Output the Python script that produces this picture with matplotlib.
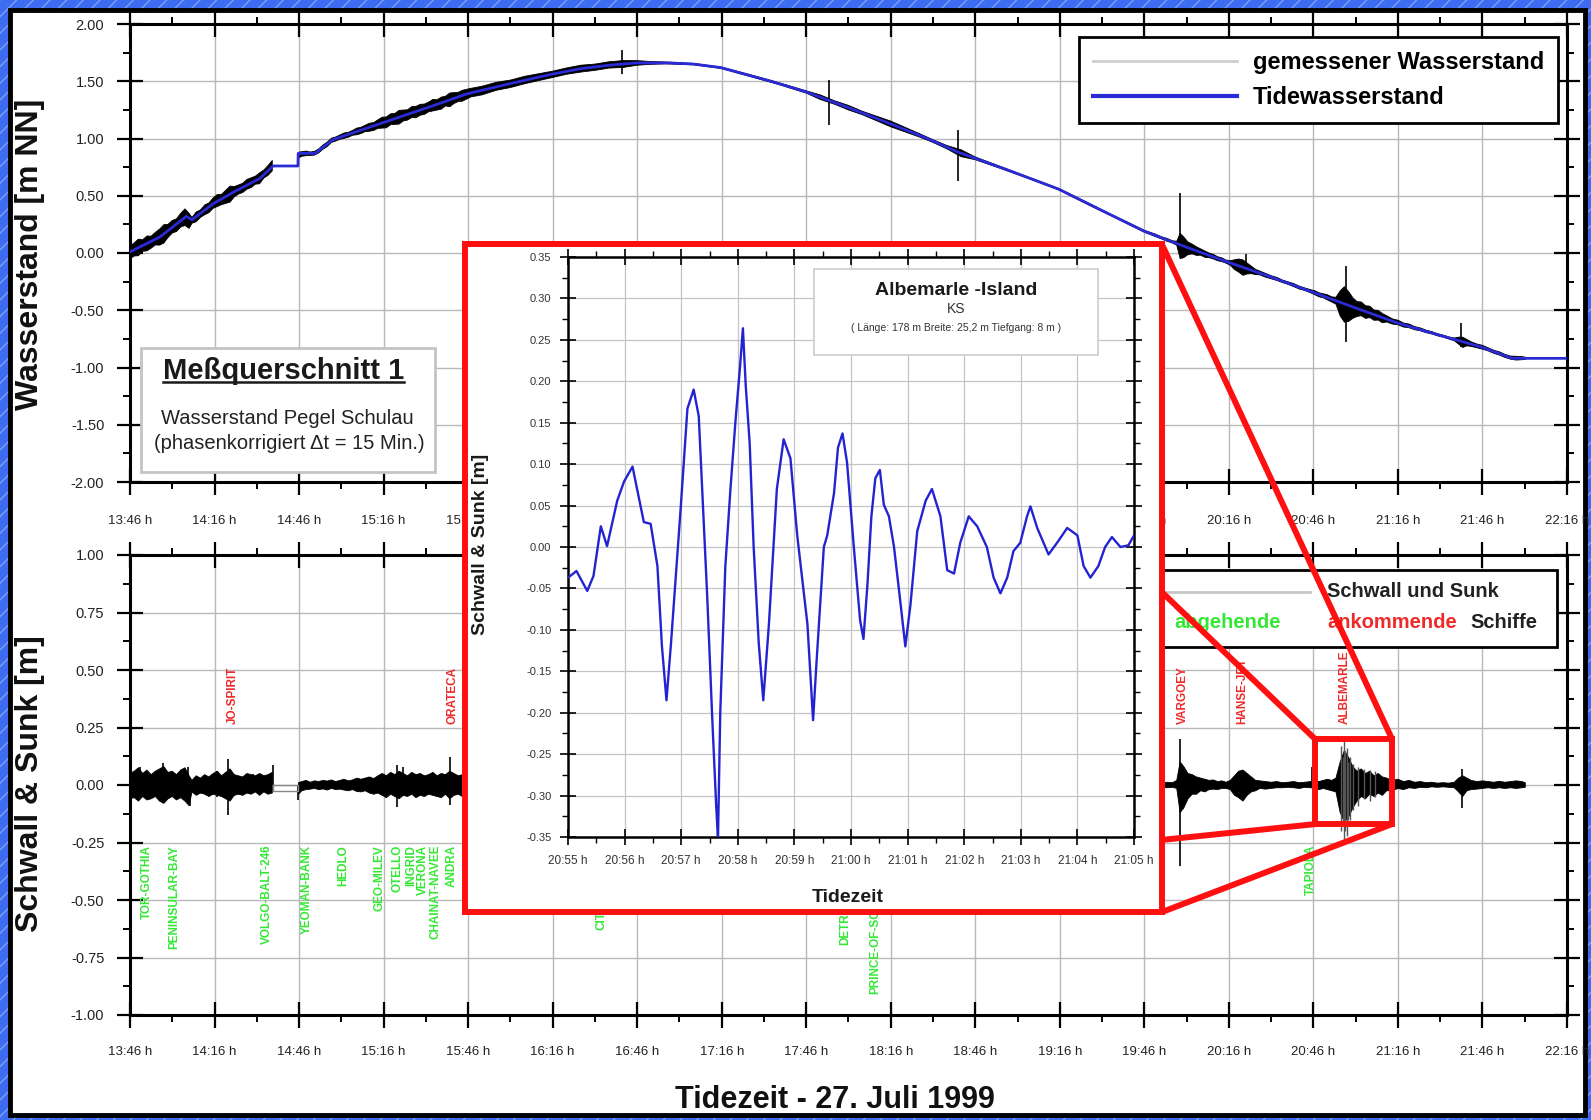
import numpy as np
import matplotlib
matplotlib.use("Agg")
import matplotlib.pyplot as plt
from matplotlib.patches import Rectangle, ConnectionPatch
from matplotlib.lines import Line2D
from matplotlib.ticker import MultipleLocator, FuncFormatter

plt.rcParams['font.family'] = ['Liberation Sans', 'DejaVu Sans']
plt.rcParams['hatch.linewidth'] = 1.0

nan = np.nan

# ---------------- data (time = minutes after 13:46 h) ----------------
time_tick_labels = ["13:46 h", "14:16 h", "14:46 h", "15:16 h", "15:46 h", "16:16 h",
                    "16:46 h", "17:16 h", "17:46 h", "18:16 h", "18:46 h", "19:16 h",
                    "19:46 h", "20:16 h", "20:46 h", "21:16 h", "21:46 h", "22:16 h"]

# Tidewasserstand [m NN]
tide_t = [0, 10.6, 20, 22, 29.5, 36.6, 46, 50.8, 59.6, 59.7, 65.7, 72, 84, 96, 108, 119.6,
          135, 149.4, 160, 170, 179.6, 191.6, 200, 209.5, 227.5, 239.6, 256, 269.7, 282,
          294, 312, 329.4, 345, 360, 375, 389.7, 405, 419.5, 435, 449.7, 465, 479.5, 490.5, 509.6]
tide_v = [0.01, 0.14, 0.32, 0.29, 0.43, 0.53, 0.65, 0.76, 0.76, 0.87, 0.87, 0.99, 1.09, 1.19,
          1.29, 1.39, 1.48, 1.56, 1.61, 1.64, 1.66, 1.66, 1.65, 1.62, 1.50, 1.41, 1.26, 1.13,
          1.01, 0.88, 0.72, 0.56, 0.37, 0.19, 0.05, -0.08, -0.21, -0.34, -0.48, -0.61, -0.72,
          -0.82, -0.92, -0.92]

# Schwall & Sunk envelope [m], four stretches (a gap in the record lies between 1 and 2)
env1_t = [0, 1.5, 3, 4.5, 6, 7.5, 9, 10.5, 12, 13.5, 15, 16.5, 18, 19.5, 21, 22, 23.5, 25,
          26.5, 28, 29.5, 31, 32.5, 34, 35.5, 37, 38.5, 40, 41.5, 43, 44.5, 46, 47.5, 49, 50.5]
env1_hi = [0.05, 0.06, 0.075, 0.05, 0.065, 0.045, 0.06, 0.07, 0.08, 0.055, 0.06, 0.045, 0.065,
           0.075, 0.04, 0.02, 0.04, 0.03, 0.045, 0.035, 0.05, 0.06, 0.04, 0.055, 0.07, 0.045,
           0.04, 0.035, 0.05, 0.045, 0.04, 0.05, 0.04, 0.045, 0.055]
env1_lo = [-0.06, -0.055, -0.07, -0.05, -0.065, -0.06, -0.05, -0.07, -0.08, -0.06, -0.05,
           -0.065, -0.055, -0.07, -0.09, -0.03, -0.045, -0.035, -0.04, -0.05, -0.04, -0.045,
           -0.05, -0.06, -0.07, -0.045, -0.04, -0.045, -0.035, -0.04, -0.03, -0.045, -0.03,
           -0.04, -0.035]

env2_t = [59.8, 61, 62.5, 64, 65.5, 67, 68.5, 70, 71.5, 73, 74.5, 76, 77.5, 79, 80.5, 82,
          83.5, 85, 86.5, 88, 89.5, 91, 92.5, 94, 95.5, 97, 98.5, 100, 101.5, 103, 104.5, 106,
          107.5, 109, 110.5, 112, 113.5, 115, 116.5, 118]
env2_hi = [0.01, 0.015, 0.02, 0.012, 0.018, 0.015, 0.02, 0.017, 0.022, 0.015, 0.02, 0.025,
           0.018, 0.022, 0.03, 0.025, 0.03, 0.035, 0.028, 0.04, 0.05, 0.04, 0.055, 0.045, 0.06,
           0.05, 0.04, 0.055, 0.045, 0.05, 0.04, 0.045, 0.055, 0.04, 0.05, 0.045, 0.06, 0.05,
           0.04, 0.045]
env2_lo = [-0.04, -0.025, -0.02, -0.018, -0.015, -0.02, -0.017, -0.022, -0.015, -0.02, -0.018,
           -0.022, -0.025, -0.02, -0.028, -0.03, -0.025, -0.035, -0.04, -0.035, -0.045, -0.055,
           -0.04, -0.05, -0.06, -0.045, -0.05, -0.04, -0.055, -0.045, -0.05, -0.04, -0.045,
           -0.05, -0.055, -0.04, -0.06, -0.045, -0.04, -0.05]

env3_t = [121, 125, 130, 135, 140, 145, 150, 155, 160, 165, 170, 175, 180, 185, 190, 200, 210,
          220, 230, 240, 245, 250, 255, 260, 265, 270, 275, 280, 285, 290, 295, 300, 310, 320,
          330, 340, 350, 355]
env3_hi = [0.04, 0.035, 0.04, 0.03, 0.035, 0.03, 0.025, 0.03, 0.03, 0.025, 0.03, 0.03, 0.02,
           0.012, 0.008, 0.006, 0.006, 0.008, 0.008, 0.01, 0.02, 0.015, 0.02, 0.015, 0.02,
           0.025, 0.02, 0.015, 0.012, 0.015, 0.03, 0.012, 0.008, 0.006, 0.006, 0.008, 0.006,
           0.008]
env3_lo = [-0.035, -0.04, -0.03, -0.035, -0.03, -0.03, -0.03, -0.025, -0.03, -0.03, -0.025,
           -0.03, -0.02, -0.012, -0.008, -0.006, -0.006, -0.008, -0.008, -0.01, -0.02, -0.015,
           -0.02, -0.015, -0.02, -0.025, -0.02, -0.015, -0.012, -0.015, -0.03, -0.012, -0.008,
           -0.006, -0.006, -0.008, -0.006, -0.008]

env4_t = [360, 362, 364, 366, 368, 370, 371.5, 372.7, 374, 375.5, 377, 378.5, 380, 381.5, 383,
          384.5, 386, 387.5, 389, 390.5, 392, 393.5, 395, 396.5, 398, 399.5, 401, 403, 405,
          407, 409, 411, 413, 415, 417, 419, 420.5, 422, 423.5, 425, 426.5, 428, 429.5, 431,
          432.5, 434, 435.5, 437, 438.5, 440, 441.5, 443, 444.5, 446, 448, 450, 452, 454, 456,
          458, 460, 462, 464, 466, 468, 470, 471.5, 473, 474.5, 476, 478, 480, 482, 484, 486,
          488, 490, 492, 494, 495.2]
env4_hi = [0.008, 0.01, 0.012, 0.008, 0.012, 0.01, 0.02, 0.1, 0.08, 0.05, 0.045, 0.035, 0.03,
           0.025, 0.02, 0.022, 0.015, 0.018, 0.012, 0.02, 0.04, 0.06, 0.065, 0.05, 0.035, 0.02,
           0.018, 0.015, 0.012, 0.015, 0.01, 0.012, 0.015, 0.01, 0.012, 0.015, 0.02, 0.015,
           0.02, 0.025, 0.02, 0.03, 0.1, 0.15, 0.12, 0.08, 0.06, 0.07, 0.05, 0.06, 0.04, 0.05,
           0.035, 0.03, 0.02, 0.025, 0.015, 0.02, 0.012, 0.015, 0.01, 0.012, 0.008, 0.01,
           0.008, 0.012, 0.03, 0.04, 0.03, 0.02, 0.015, 0.018, 0.015, 0.012, 0.016, 0.012,
           0.015, 0.018, 0.015, 0.01]
env4_lo = [-0.008, -0.008, -0.01, -0.01, -0.012, -0.01, -0.015, -0.12, -0.1, -0.06, -0.04,
           -0.04, -0.025, -0.03, -0.02, -0.018, -0.02, -0.015, -0.015, -0.02, -0.045, -0.055,
           -0.07, -0.045, -0.03, -0.025, -0.015, -0.018, -0.015, -0.012, -0.012, -0.01, -0.012,
           -0.015, -0.01, -0.012, -0.015, -0.02, -0.015, -0.02, -0.025, -0.03, -0.12, -0.16,
           -0.14, -0.1, -0.07, -0.05, -0.06, -0.04, -0.05, -0.035, -0.045, -0.025, -0.025,
           -0.015, -0.02, -0.012, -0.015, -0.01, -0.012, -0.008, -0.01, -0.008, -0.01, -0.012,
           -0.03, -0.05, -0.025, -0.02, -0.018, -0.015, -0.012, -0.015, -0.012, -0.015, -0.012,
           -0.015, -0.012, -0.01]

# single spikes in Schwall & Sunk [m]
spk_t = [3.6, 11.8, 20.7, 21.3, 30.8, 34.9, 43.8, 50.9, 59.8, 94.7, 97, 113.6, 372.7, 394,
         419.4, 472.7]
spk_hi = [0.08, 0.095, 0.08, 0.0, 0.06, 0.115, 0.05, 0.085, 0.0, 0.085, 0.08, 0.12, 0.2, 0.06,
          0.08, 0.07]
spk_lo = [0.0, -0.08, 0.0, -0.09, -0.05, -0.13, 0.0, 0.0, -0.065, -0.095, 0.0, -0.087, -0.35,
          -0.06, 0.0, -0.1]
# dense oscillation of the Albemarle-Island wave (drawn grey)
alb_t = [429.8, 430.4, 430.8, 431.3, 431.8, 432.4, 433, 434, 436, 438, 440, 442]
alb_hi = [0.17, 0.12, 0.2, 0.15, 0.16, 0.1, 0.12, 0.09, 0.08, 0.07, 0.065, 0.06]
alb_lo = [-0.2, -0.15, -0.25, -0.2, -0.22, -0.15, -0.15, -0.11, -0.09, -0.06, -0.07, -0.05]

# gap in the measurement (drawn as thin grey outline)
gap_t = [50.8, 59.6, 59.6, 50.8, 50.8]
gap_v = [0.0, 0.0, -0.025, -0.025, 0.0]

# spikes in the measured water level [m NN]
top_spk_t = [174.6, 248, 294, 372.7, 396, 431.4, 472.4]
top_spk_hi = [1.77, 1.51, 1.07, 0.52, -0.01, -0.11, -0.61]
top_spk_lo = [1.56, 1.12, 0.63, 0.03, -0.17, -0.78, -0.82]

# ships
ships_out = ["TOR-GOTHIA", "PENINSULAR-BAY", "VOLGO-BALT-246", "YEOMAN-BANK", "HEDLO",
             "GEO-MILEV", "OTELLO", "INGRID", "VERONA", "CHAINAT-NAVEE", "ANDRA",
             "CITY-OF-ROME", "DETROIT-BRIDGE", "PRINCE-OF-SCANDINAVIA", "TAPIOLA"]
ships_out_t = [6.0, 15.6, 48.6, 62.8, 75.6, 88.7, 94.8, 99.7, 104.0, 108.6, 114.3,
               167.5, 253.8, 264.4, 419.2]
ships_in = ["JO-SPIRIT", "ORATECA", "VARGOEY", "HANSE-JET", "ALBEMARLE"]
ships_in_t = [36.6, 114.3, 373.7, 394.7, 431.2]

# inset: Albemarle-Island (minutes after 20:55 h)
ins_tick_labels = ["20:55 h", "20:56 h", "20:57 h", "20:58 h", "20:59 h", "21:00 h",
                   "21:01 h", "21:02 h", "21:03 h", "21:04 h", "21:05 h"]
ins_t = [0, 0.15, 0.34, 0.45, 0.58, 0.69, 0.87, 0.99, 1.14, 1.34, 1.46, 1.58, 1.66, 1.74,
         1.82, 1.99, 2.11, 2.22, 2.31, 2.46, 2.55, 2.62, 2.65, 2.69, 2.78, 2.87, 2.96, 3.04,
         3.09, 3.14, 3.21, 3.28, 3.37, 3.45, 3.55, 3.69, 3.81, 3.93, 4.05, 4.23, 4.33, 4.39,
         4.52, 4.58, 4.70, 4.77, 4.85, 4.93, 5.05, 5.16, 5.22, 5.29, 5.36, 5.43, 5.51, 5.58,
         5.67, 5.76, 5.87, 5.96, 6.05, 6.17, 6.32, 6.43, 6.58, 6.70, 6.82, 6.93, 7.08, 7.23,
         7.40, 7.52, 7.64, 7.76, 7.87, 7.99, 8.11, 8.17, 8.29, 8.49, 8.64, 8.82, 9.00, 9.11,
         9.23, 9.37, 9.49, 9.61, 9.76, 9.90, 10.0]
ins_v = [-0.037, -0.029, -0.053, -0.035, 0.025, 0.001, 0.056, 0.079, 0.097, 0.030, 0.028,
         -0.023, -0.12, -0.185, -0.116, 0.046, 0.167, 0.19, 0.158, -0.06, -0.209, -0.315,
         -0.352, -0.2, -0.023, 0.07, 0.153, 0.218, 0.264, 0.195, 0.125, 0.0, -0.116, -0.185,
         -0.093, 0.07, 0.13, 0.107, 0.014, -0.093, -0.209, -0.14, 0.0, 0.014, 0.065, 0.12,
         0.137, 0.102, 0.0, -0.088, -0.111, -0.046, 0.037, 0.083, 0.093, 0.051, 0.037, 0.0,
         -0.065, -0.12, -0.07, 0.019, 0.056, 0.07, 0.037, -0.028, -0.032, 0.005, 0.037, 0.025,
         0.0, -0.037, -0.056, -0.037, -0.005, 0.005, 0.037, 0.049, 0.023, -0.009, 0.005, 0.023,
         0.014, -0.023, -0.037, -0.023, 0.0, 0.012, 0.0, 0.002, 0.014]

# zoom window marked in the lower panel (time, Schwall)
zoom_t0, zoom_t1, zoom_v0, zoom_v1 = 420.6, 447.9, -0.17, 0.20

# ---------------- figure ----------------
W, H = 1591, 1120
fig = plt.figure(figsize=(W / 100, H / 100), dpi=100)
BLUE_BG = '#3d6cf0'
fig.patch.set_facecolor(BLUE_BG)


def fbox(x0, y0, x1, y1):
    return [x0 / W, 1 - y1 / H, (x1 - x0) / W, (y1 - y0) / H]


fig.add_artist(Rectangle((0, 0), 1, 1, transform=fig.transFigure, facecolor=BLUE_BG,
                         edgecolor='#7f9ff8', hatch='//', lw=0, zorder=-3))
fig.add_artist(Rectangle((10 / W, 1 - 1115 / H), 1575 / W, 1105 / H, transform=fig.transFigure,
                         facecolor='white', edgecolor='black', lw=3.5, zorder=-2))

TIDE_BLUE = '#2a2ad6'
RED = '#ff1010'
GREEN_TXT = '#33e833'
RED_TXT = '#ee2a2a'
yfmt = FuncFormatter(lambda v, p: f"{v + 0:.2f}")

# assemble Schwall & Sunk envelope (NaN marks the gap of the record)
sw_t = np.array(env1_t + [55.0] + env2_t + env3_t + env4_t)
sw_hi = np.array(env1_hi + [nan] + env2_hi + env3_hi + env4_hi)
sw_lo = np.array(env1_lo + [nan] + env2_lo + env3_lo + env4_lo)

ax1 = fig.add_axes(fbox(130, 24, 1567, 482))
ax2 = fig.add_axes(fbox(130, 555, 1567, 1015))

for ax in (ax1, ax2):
    ax.set_xlim(0, 510)
    ax.set_xticks(np.arange(0, 511, 30), time_tick_labels)
    ax.xaxis.set_minor_locator(MultipleLocator(15))
    ax.yaxis.set_major_formatter(yfmt)
    ax.tick_params(which='major', direction='inout', length=19, width=1.6,
                   top=True, right=True, labelcolor='#222222')
    ax.tick_params(which='minor', direction='out', length=5, width=1.4, top=True, right=True)
    ax.tick_params(axis='y', which='major', labelsize=10.5, pad=9)
    ax.grid(True, which='major', color='#b8b8b8', lw=1.0)
    ax.set_axisbelow(True)
    for s in ax.spines.values():
        s.set_linewidth(2.2)
ax1.tick_params(axis='x', which='major', labelsize=9.5, pad=14)
ax2.tick_params(axis='x', which='major', labelsize=9.5, pad=13)

ax1.set_ylim(-2, 2)
ax1.yaxis.set_major_locator(MultipleLocator(0.5))
ax1.yaxis.set_minor_locator(MultipleLocator(0.25))
ax2.set_ylim(-1, 1)
ax2.yaxis.set_major_locator(MultipleLocator(0.25))
ax2.yaxis.set_minor_locator(MultipleLocator(0.125))

# --- upper panel
tide_at = np.interp(sw_t, tide_t, tide_v)
ax1.fill_between(sw_t, tide_at + sw_lo, tide_at + sw_hi, color='black', lw=0.6, zorder=2)
ax1.vlines(top_spk_t, top_spk_lo, top_spk_hi, color='black', lw=1.2, zorder=2)
ax1.plot(tide_t, tide_v, color=TIDE_BLUE, lw=2.0, zorder=3)

leg = ax1.legend(handles=[Line2D([], [], color='#cfcfcf', lw=2),
                          Line2D([], [], color=TIDE_BLUE, lw=3)],
                 labels=["gemessener Wasserstand", "Tidewasserstand"],
                 loc='upper right', bbox_to_anchor=(0.9937, 0.9716), borderaxespad=0,
                 fancybox=False, edgecolor='black', framealpha=1,
                 prop={'weight': 'bold', 'size': 17}, handlelength=6.1,
                 handletextpad=0.65, labelspacing=0.5, borderpad=0.6)
leg.get_frame().set_linewidth(2)

ax1.add_patch(Rectangle((0.0077, 0.0218), 0.2045, 0.2708, transform=ax1.transAxes,
                        facecolor='white', edgecolor='#c4c4c4', lw=2, zorder=5))
title_txt = ax1.text(0.107, 0.2249, "Meßquerschnitt 1", transform=ax1.transAxes,
                     ha='center', va='baseline', fontsize=21, fontweight='bold',
                     color='#1a1a1a', zorder=6)
ax1.text(0.1096, 0.1397, "Wasserstand Pegel Schulau", transform=ax1.transAxes,
         ha='center', va='center', fontsize=14.5, color='#222222', zorder=6)
ax1.text(0.1106, 0.085, "(phasenkorrigiert Δt = 15 Min.)", transform=ax1.transAxes,
         ha='center', va='center', fontsize=14.5, color='#222222', zorder=6)

# --- lower panel
ax2.fill_between(sw_t, sw_lo, sw_hi, color='black', lw=0.6, zorder=2)
ax2.vlines(spk_t, spk_lo, spk_hi, color='black', lw=1.2, zorder=2)
ax2.vlines(alb_t, alb_lo, alb_hi, color='#555555', lw=1.0, zorder=2)
ax2.plot(gap_t, gap_v, color='#888888', lw=1, zorder=2)
for name, t in zip(ships_out, ships_out_t):
    ax2.text(t, -0.26, name, rotation=90, ha='center', va='top', fontsize=8.5,
             fontweight='bold', color=GREEN_TXT, zorder=3)
for name, t in zip(ships_in, ships_in_t):
    ax2.text(t, 0.265, name, rotation=90, ha='center', va='bottom', fontsize=8.5,
             fontweight='bold', color=RED_TXT, zorder=3)

ax2.add_patch(Rectangle((0.65, 0.80), 0.343, 0.167, transform=ax2.transAxes,
                        facecolor='white', edgecolor='black', lw=2, zorder=5))
ax2.add_line(Line2D([0.65, 0.821], [0.9196, 0.9196], transform=ax2.transAxes,
                    color='#c8c8c8', lw=2, zorder=6))
ax2.text(0.833, 0.9196, "Schwall und Sunk", transform=ax2.transAxes, ha='left', va='center',
         fontsize=14.5, fontweight='bold', color='#222222', zorder=6)
ax2.text(0.727, 0.854, "abgehende", transform=ax2.transAxes, ha='left', va='center',
         fontsize=14.5, fontweight='bold', color=GREEN_TXT, zorder=6)
ax2.text(0.833, 0.854, "ankommende", transform=ax2.transAxes, ha='left', va='center',
         fontsize=14.5, fontweight='bold', color=RED_TXT, zorder=6)
ax2.text(0.9325, 0.854, "Schiffe", transform=ax2.transAxes, ha='left', va='center',
         fontsize=14.5, fontweight='bold', color='#222222', zorder=6)

ax2.add_patch(Rectangle((zoom_t0, zoom_v0), zoom_t1 - zoom_t0, zoom_v1 - zoom_v0,
                        fill=False, edgecolor=RED, lw=4.3, zorder=7))

# --- labels
fig.text(30 / W, 1 - 254 / H, "Wasserstand [m NN]", rotation=90, ha='center', va='center',
         fontsize=23, fontweight='bold', color='#111111')
fig.text(30 / W, 1 - 784 / H, "Schwall & Sunk [m]", rotation=90, ha='center', va='center',
         fontsize=23, fontweight='bold', color='#111111')
fig.text(835 / W, 1 - 1100 / H, "Tidezeit - 27. Juli 1999", ha='center', va='center',
         fontsize=22, fontweight='bold', color='#111111')

# --- inset
frame = fig.add_axes(fbox(465, 244.5, 1162, 912))
frame.set_facecolor('white')
frame.set_xticks([])
frame.set_yticks([])
for s in frame.spines.values():
    s.set_color(RED)
    s.set_linewidth(4.3)

ins = fig.add_axes(fbox(568, 257, 1134, 837))
ins.set_xlim(0, 10)
ins.set_ylim(-0.35, 0.35)
ins.set_xticks(np.arange(0, 11, 1), ins_tick_labels)
ins.xaxis.set_minor_locator(MultipleLocator(0.5))
ins.yaxis.set_major_locator(MultipleLocator(0.05))
ins.yaxis.set_minor_locator(MultipleLocator(0.025))
ins.yaxis.set_major_formatter(yfmt)
ins.tick_params(which='major', direction='inout', length=12, width=1.2, top=True, right=True,
                labelcolor='#333333')
ins.tick_params(which='minor', direction='out', length=4, width=1.0, top=True, right=True)
ins.tick_params(axis='x', which='major', labelsize=8.5, pad=7)
ins.tick_params(axis='y', which='major', labelsize=8, pad=6)
ins.grid(True, which='major', color='#c4c4c4', lw=0.9)
ins.set_axisbelow(True)
for s in ins.spines.values():
    s.set_linewidth(1.8)
ins.plot(ins_t, ins_v, color='#2323d2', lw=1.7, zorder=3)

ins.add_patch(Rectangle((0.4346, 0.831), 0.5018, 0.148, transform=ins.transAxes,
                        facecolor='white', edgecolor='#cccccc', lw=1.2, zorder=5))
ins.text(0.6855, 0.943, "Albemarle -Island", transform=ins.transAxes, ha='center',
         va='center', fontsize=14, fontweight='bold', color='#1a1a1a', zorder=6)
ins.text(0.6855, 0.91, "KS", transform=ins.transAxes, ha='center', va='center',
         fontsize=10, color='#333333', zorder=6)
ins.text(0.6855, 0.878, "( Länge: 178 m Breite: 25,2 m Tiefgang: 8 m )", transform=ins.transAxes,
         ha='center', va='center', fontsize=7.5, color='#333333', zorder=6)

fig.text(481 / W, 1 - 544 / H, "Schwall & Sunk [m]", rotation=90, ha='center', va='center',
         fontsize=14, fontweight='bold', color='#1a1a1a')
fig.text(848 / W, 1 - 897 / H, "Tidezeit", ha='center', va='center',
         fontsize=14, fontweight='bold', color='#1a1a1a')

# --- connector lines from the inset to the zoom window
for fa, xb, yb in [((1, 1), zoom_t1, zoom_v1), ((1, 0.479), zoom_t0, zoom_v1),
                   ((1, 0.108), zoom_t0, zoom_v0), ((1, 0.0), zoom_t1, zoom_v0)]:
    cp = ConnectionPatch(xyA=fa, coordsA=frame.transAxes, xyB=(xb, yb), coordsB=ax2.transData,
                         color=RED, lw=4.3, zorder=8)
    fig.add_artist(cp)

# --- underline of the box title
fig.canvas.draw()
bb = title_txt.get_window_extent()
y_base = ax1.transAxes.transform((0, 0.2249))[1]
fig.add_artist(Line2D([bb.x0 / W, bb.x1 / W], [(y_base - 3) / H, (y_base - 3) / H],
                      transform=fig.transFigure, color='#1a1a1a', lw=1.8, zorder=9))

fig.savefig("out.png", dpi=100, facecolor=fig.get_facecolor())
